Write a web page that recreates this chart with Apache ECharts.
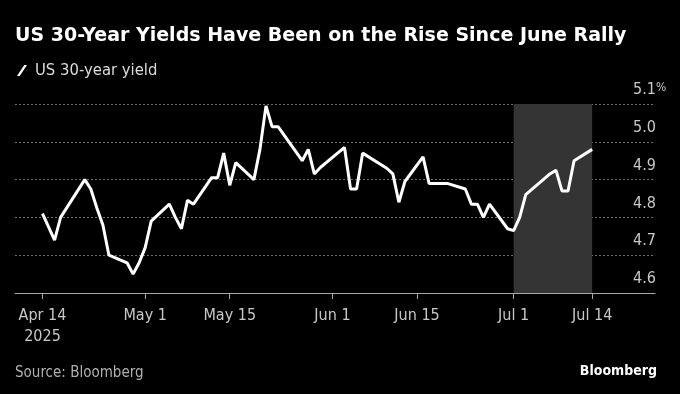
<!DOCTYPE html>
<html>
<head>
<meta charset="utf-8">
<script src="https://cdn.jsdelivr.net/npm/echarts@6/dist/echarts.min.js"></script>
<style>
html,body{margin:0;padding:0;background:#000;}
#chart{width:680px;height:394px;}
</style>
</head>
<body>
<div id="chart"></div>
<script>
const seriesName = 'US 30-year yield';
const dates = ['2025-04-14','2025-04-15','2025-04-16','2025-04-17','2025-04-21','2025-04-22','2025-04-23','2025-04-24','2025-04-25','2025-04-28','2025-04-29','2025-04-30','2025-05-01','2025-05-02','2025-05-05','2025-05-06','2025-05-07','2025-05-08','2025-05-09','2025-05-12','2025-05-13','2025-05-14','2025-05-15','2025-05-16','2025-05-19','2025-05-20','2025-05-21','2025-05-22','2025-05-23','2025-05-27','2025-05-28','2025-05-29','2025-05-30','2025-06-02','2025-06-03','2025-06-04','2025-06-05','2025-06-06','2025-06-09','2025-06-10','2025-06-11','2025-06-12','2025-06-13','2025-06-16','2025-06-17','2025-06-18','2025-06-20','2025-06-23','2025-06-24','2025-06-25','2025-06-26','2025-06-27','2025-06-30','2025-07-01','2025-07-02','2025-07-03','2025-07-07','2025-07-08','2025-07-09','2025-07-10','2025-07-11','2025-07-14'];
const yields = [4.81,4.775,4.74,4.80,4.90,4.875,4.825,4.78,4.70,4.68,4.65,4.68,4.72,4.79,4.835,4.80,4.77,4.845,4.835,4.905,4.905,4.97,4.885,4.945,4.90,4.98,5.095,5.04,5.04,4.95,4.98,4.915,4.932,4.972,4.985,4.875,4.875,4.97,4.94,4.93,4.915,4.84,4.895,4.96,4.89,4.89,4.89,4.875,4.835,4.835,4.80,4.835,4.77,4.765,4.80,4.86,4.915,4.925,4.87,4.87,4.95,4.98];
const tickDates = ['2025-04-14','2025-05-01','2025-05-15','2025-06-01','2025-06-15','2025-07-01','2025-07-14'];
const tickLabels = ['Apr 14\n2025','May 1','May 15','Jun 1','Jun 15','Jul 1','Jul 14'];
const shadeRange = ['2025-07-01','2025-07-14'];
const yTicks = [4.6,4.7,4.8,4.9,5.0,5.1];

const DAY = 86400000;
const ts = d => { const p = d.split('-').map(Number); return Date.UTC(p[0], p[1]-1, p[2]); };
const tickTs = tickDates.map(ts);
const FONT = "'DejaVu Sans Condensed', 'Liberation Sans Narrow', 'DejaVu Sans', sans-serif";
const FONT_WIDE = "'DejaVu Sans', sans-serif";

const chart = echarts.init(document.getElementById('chart'), null, {renderer:'canvas'});
chart.setOption({
  backgroundColor: '#000',
  animation: false,
  textStyle: {fontFamily: FONT},
  title: [
    {text: 'US 30-Year Yields Have Been on the Rise Since June Rally', left: 10, top: 22,
     textStyle: {color:'#fff', fontSize: 19, fontWeight:'bold', fontFamily: FONT_WIDE}},
    {text: 'Source: Bloomberg', left: 10, top: 361,
     textStyle: {color:'#b0b0b0', fontSize: 15, fontWeight:'normal', fontFamily: FONT}},
    {text: 'Bloomberg', right: 18, top: 359,
     textStyle: {color:'#fff', fontSize: 14, fontWeight:'bold', fontFamily: FONT}}
  ],
  legend: {
    left: 12, top: 57,
    itemWidth: 10, itemHeight: 12, itemGap: 10,
    data: [{name: seriesName, icon: 'path://M8,0 L11,0 L3,12 L0,12 Z'}],
    itemStyle: {color:'#fff', borderWidth: 0},
    textStyle: {color:'#dcdcdc', fontSize: 16.5, fontFamily: FONT, padding:[0,0,0,3]}
  },
  grid: {left: 15, right: 25, top: 104, bottom: 101, containLabel: false},
  xAxis: {
    type: 'value',
    min: ts('2025-04-14') - 4.55*DAY,
    max: ts('2025-04-14') + 101.4*DAY,
    axisLine: {show: true, lineStyle: {color:'#a8a8a8', width: 1}},
    axisTick: {show: true, customValues: tickTs, length: 6, lineStyle: {color:'#a8a8a8'}},
    axisLabel: {
      customValues: tickTs, color:'#c8c8c8', fontSize: 16, margin: 12, lineHeight: 21,
      fontFamily: FONT,
      formatter: function(v){ const i = tickTs.indexOf(v); return i >= 0 ? tickLabels[i] : ''; }
    },
    splitLine: {show: false}
  },
  yAxis: {
    type: 'value', position: 'right',
    min: yTicks[0], max: yTicks[yTicks.length-1], interval: 0.1,
    axisLine: {show: false}, axisTick: {show: false},
    axisLabel: {
      color:'#c8c8c8', fontSize: 16, fontFamily: FONT, margin: -22, align: 'left',
      verticalAlign: 'bottom', lineHeight: 16, padding: [0,0,6,0],
      formatter: function(v){ const s = v.toFixed(1); return Math.abs(v - 5.1) < 1e-6 ? '{n|' + s + '}{p|%}' : s; },
      rich: {
        n: {color:'#c8c8c8', fontSize: 16, fontFamily: FONT, lineHeight: 16},
        p: {color:'#c8c8c8', fontSize: 12, fontFamily: FONT, lineHeight: 16, verticalAlign: 'top', padding:[0,0,3,0]}
      }
    },
    splitLine: {show: true, lineStyle: {color:'#707070', width: 1, type: [2,2]}}
  },
  series: [{
    name: seriesName, type: 'line',
    data: dates.map((d,i) => [ts(d), yields[i]]),
    showSymbol: false, symbol: 'none',
    lineStyle: {color:'#fff', width: 3},
    itemStyle: {color:'#fff'},
    markArea: {
      silent: true,
      itemStyle: {color:'#343434'},
      data: [[{xAxis: ts(shadeRange[0])}, {xAxis: ts(shadeRange[1])}]]
    },
    z: 3
  }]
});
</script>
</body>
</html>
